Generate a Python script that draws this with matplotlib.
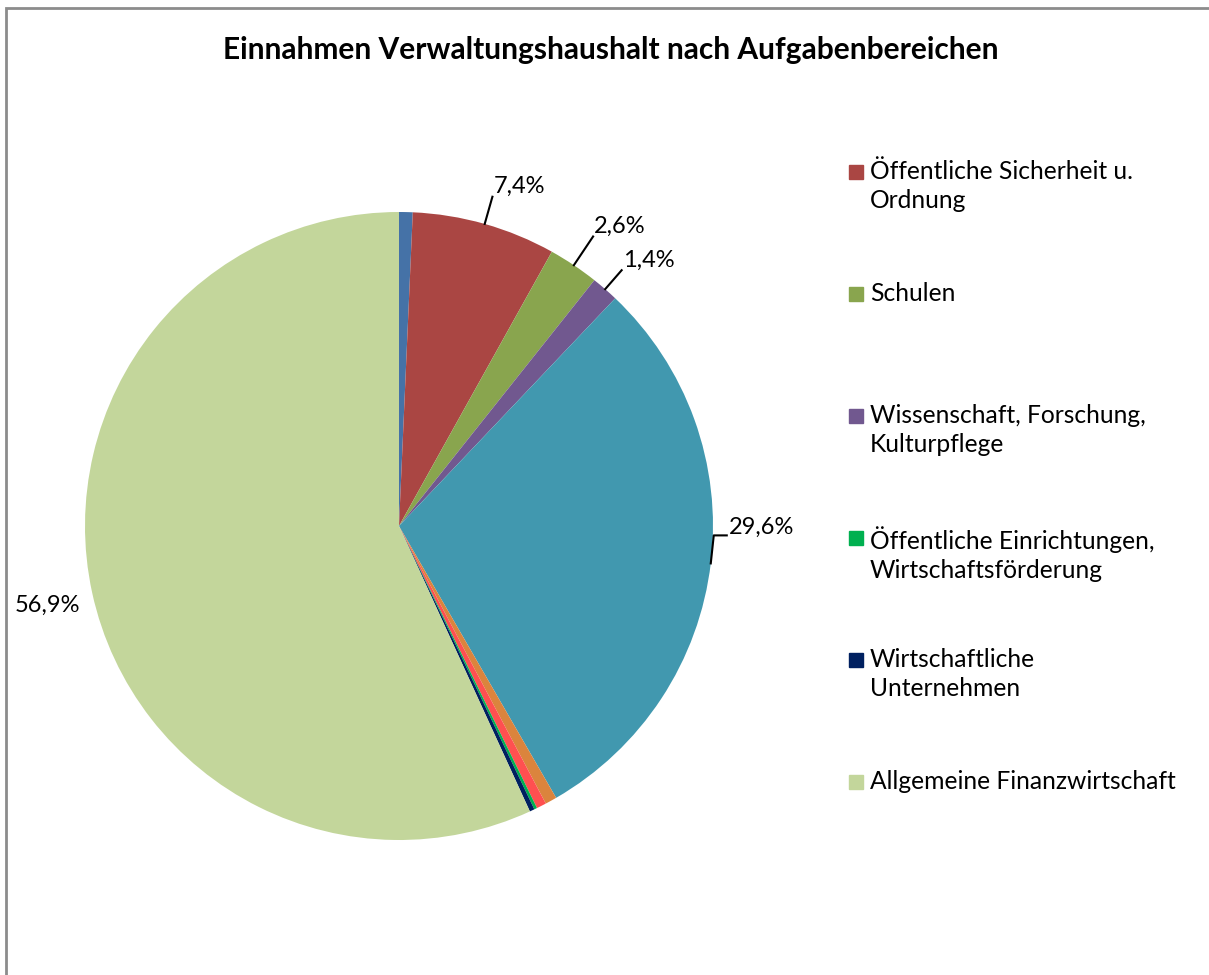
import numpy as np
import matplotlib
matplotlib.use("Agg")
from matplotlib import pyplot as plt
from matplotlib.patches import Rectangle

plt.rcParams['font.family'] = ['Lato', 'DejaVu Sans']

# data (percent of total income), clockwise from 12 o'clock
categories = ['Allgemeine Verwaltung',
              'Öffentliche Sicherheit u. Ordnung',
              'Schulen',
              'Wissenschaft, Forschung, Kulturpflege',
              'Soziale Sicherung',
              'Gesundheit, Sport, Erholung',
              'Bau- und Wohnungswesen, Verkehr',
              'Öffentliche Einrichtungen, Wirtschaftsförderung',
              'Wirtschaftliche Unternehmen',
              'Allgemeine Finanzwirtschaft']
shares = [0.7, 7.4, 2.6, 1.4, 29.6, 0.6, 0.5, 0.15, 0.25, 56.9]
colors = ['#4572A7', '#AA4643', '#89A54E', '#71588F', '#4198AF',
          '#DB843D', '#FF5050', '#00B050', '#002060', '#C3D69B']
labels = ['', '7,4%', '2,6%', '1,4%', '29,6%', '', '', '', '', '56,9%']

# legend shows only these entries (wrapped as in the original)
legend_idx = [1, 2, 3, 7, 8, 9]
legend_txt = ['Öffentliche Sicherheit u.\nOrdnung',
              'Schulen',
              'Wissenschaft, Forschung,\nKulturpflege',
              'Öffentliche Einrichtungen,\nWirtschaftsförderung',
              'Wirtschaftliche\nUnternehmen',
              'Allgemeine Finanzwirtschaft']

W, H = 1209, 975
fig = plt.figure(figsize=(W / 100., H / 100.), dpi=100)

# axes in pixel-like units: pie centre at (399,526) px, radius 314 px
cx, cy, R = 399., 526., 314.
ax = fig.add_axes([0, 0, 1, 1])
ax.axis('off')

wedges, _ = ax.pie(shares, colors=colors, startangle=90, counterclock=False,
                   radius=1.0, center=(0, 0), wedgeprops=dict(linewidth=0))
ax.set_xlim(-cx / R, (W - cx) / R)
ax.set_ylim((cy - H) / R, cy / R)

# data labels with leader lines
lead_r = {1: 1.09, 2: 1.11, 3: 1.08}
cum = np.cumsum([0] + shares)
for i, lab in enumerate(labels):
    if not lab:
        continue
    mid = (cum[i] + cum[i + 1]) / 2. / 100. * 2 * np.pi
    ex, ey = np.sin(mid), np.cos(mid)
    if i in lead_r:
        r2 = lead_r[i]
        lx, ly = r2 * ex, r2 * ey
        ax.plot([ex, lx], [ey, ly], color='black', lw=1.5)
        ax.text(lx + 1 / R, ly + 10 / R, lab, fontsize=17, ha='left', va='center')
    elif i == 4:
        lx, ly = ex + 3 / R, ey + 28 / R
        ax.plot([ex, lx, lx + 13 / R], [ey, ly, ly], color='black', lw=1.5)
        ax.text(lx + 15 / R, ly + 8 / R, lab, fontsize=17, ha='left', va='center')
    else:
        ax.text(ex - 12 / R, ey - 14 / R, lab, fontsize=17, ha='right', va='center')

# title
fig.text(611 / W, 1 - 50 / H, 'Einnahmen Verwaltungshaushalt nach Aufgabenbereichen',
         fontsize=21.5, fontweight='bold', ha='center', va='center')

# legend drawn by hand (Excel style)
y0 = 172
for k, (ci, txt) in enumerate(zip(legend_idx, legend_txt)):
    yy = y0 + k * 122
    fig.patches.append(Rectangle((849 / W, 1 - (yy + 7) / H), 14 / W, 14 / H,
                                 transform=fig.transFigure, color=colors[ci]))
    fig.text(870 / W, 1 - (yy - 12) / H, txt, fontsize=17.7, ha='left', va='top',
             linespacing=1.3)

# chart area border
fig.patches.append(Rectangle((6 / W, -0.05), 1.1, 1 - 8 / H + 0.05,
                             transform=fig.transFigure, fill=False,
                             edgecolor='#8c8c8c', lw=2))

plt.savefig('out.png', dpi=100)
